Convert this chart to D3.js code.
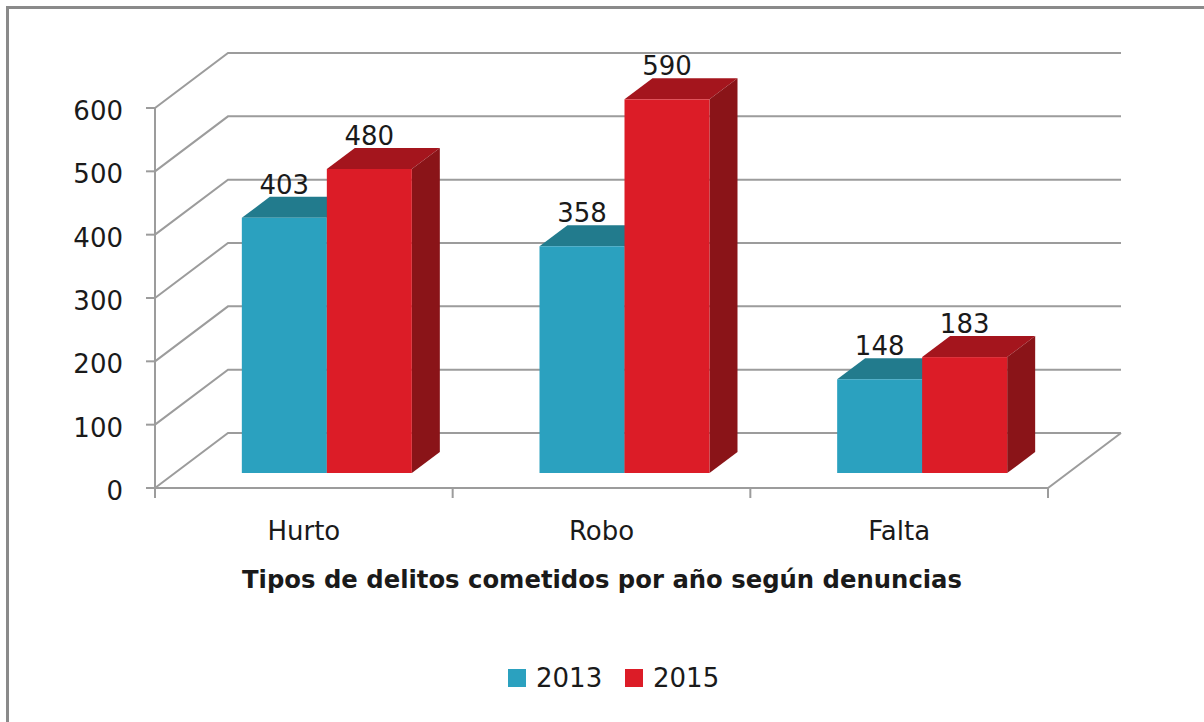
<!DOCTYPE html>
<html>
  <head>
    <title>Tipos de delitos</title>
    <script src="https://d3js.org/d3.v7.min.js"></script>
    <style>
      body { margin: 0; background: #fff; }
      text { font-family: "DejaVu Sans", sans-serif; fill: #1a1a1a; }
    </style>
  </head>
  <body>
    <div id="chart"></div>
    <script>
      // datos
      var categorias = ["Hurto", "Robo", "Falta"];
      var series = ["2013", "2015"];
      var valores2013 = [403, 358, 148];
      var valores2015 = [480, 590, 183];
      var ticksY = [0, 100, 200, 300, 400, 500, 600];

      var colores = {
        "2013": { front: "#2ba1bf", top: "#227b8d", side: "#1c6676" },
        "2015": { front: "#dc1c27", top: "#a4151d", side: "#8a1418" }
      };

      var W = 1204, H = 722;
      var svg = d3.select("#chart").append("svg")
        .attr("width", W).attr("height", H);

      // marco exterior
      svg.append("rect")
        .attr("x", 7.5).attr("y", 7.5)
        .attr("width", 1400).attr("height", 900)
        .attr("fill", "none")
        .attr("stroke", "#8a8a8a")
        .attr("stroke-width", 3);

      var x = d3.scaleBand().domain(categorias).range([155, 1048]);
      var y = d3.scaleLinear().domain([0, 600]).range([488, 108]);
      var xSerie = d3.scaleBand().domain(series).range([0, 170]);

      // profundidad (proyeccion oblicua)
      var DX = 73, DY = -55;        // pared del fondo
      var fdx = 20, fdy = -15;      // cara frontal de la barra
      var bdx = 28, bdy = -21;      // fondo de la barra
      var gris = "#9c9c9c";

      // lineas de cuadricula (pared izquierda + fondo)
      svg.selectAll("polyline.grid")
        .data(ticksY)
        .enter()
        .append("polyline")
        .attr("class", "grid")
        .attr("points", function(t) {
          return [[155, y(t)], [155 + DX, y(t) + DY], [1048 + DX, y(t) + DY]].join(" ");
        })
        .attr("fill", "none")
        .attr("stroke", gris)
        .attr("stroke-width", 2);

      // suelo: borde frontal y derecho
      svg.append("polyline")
        .attr("points", [[155, y(0)], [1048, y(0)], [1048 + DX, y(0) + DY]].join(" "))
        .attr("fill", "none")
        .attr("stroke", gris)
        .attr("stroke-width", 2);

      // eje y
      svg.append("line")
        .attr("x1", 155).attr("x2", 155)
        .attr("y1", y(600)).attr("y2", y(0))
        .attr("stroke", gris).attr("stroke-width", 2);

      svg.selectAll("line.ytick")
        .data(ticksY)
        .enter()
        .append("line")
        .attr("class", "ytick")
        .attr("x1", 146).attr("x2", 155)
        .attr("y1", function(t) { return y(t); })
        .attr("y2", function(t) { return y(t); })
        .attr("stroke", gris).attr("stroke-width", 2);

      svg.selectAll("text.ylabel")
        .data(ticksY)
        .enter()
        .append("text")
        .attr("class", "ylabel")
        .text(function(t) { return t; })
        .attr("x", 123)
        .attr("y", function(t) { return y(t) + 12; })
        .attr("text-anchor", "end")
        .attr("font-size", "26px");

      // marcas del eje x
      var bordes = categorias.map(function(c) { return x(c); }).concat([x.range()[1]]);
      svg.selectAll("line.xtick")
        .data(bordes)
        .enter()
        .append("line")
        .attr("class", "xtick")
        .attr("x1", function(d) { return d; })
        .attr("x2", function(d) { return d; })
        .attr("y1", y(0)).attr("y2", y(0) + 10)
        .attr("stroke", gris).attr("stroke-width", 2);

      svg.selectAll("text.xlabel")
        .data(categorias)
        .enter()
        .append("text")
        .attr("class", "xlabel")
        .text(function(c) { return c; })
        .attr("x", function(c) { return x(c) + x.bandwidth() / 2; })
        .attr("y", 540)
        .attr("text-anchor", "middle")
        .attr("font-size", "26px");

      // barras 3D
      var barras = [];
      categorias.forEach(function(c, i) {
        barras.push({ cat: c, serie: "2013", valor: valores2013[i] });
        barras.push({ cat: c, serie: "2015", valor: valores2015[i] });
      });

      var bw = xSerie.bandwidth();
      function sx(d) {
        return x(d.cat) + x.bandwidth() / 2 + 3 - 85 + xSerie(d.serie) + fdx;
      }

      var g = svg.selectAll("g.barra")
        .data(barras)
        .enter()
        .append("g")
        .attr("class", "barra");

      g.append("polygon")
        .attr("points", function(d) {
          var x0 = sx(d), yt = y(d.valor) + fdy;
          return [[x0, yt], [x0 + bw, yt], [x0 + bw + bdx, yt + bdy], [x0 + bdx, yt + bdy]].join(" ");
        })
        .attr("fill", function(d) { return colores[d.serie].top; });

      g.append("polygon")
        .attr("points", function(d) {
          var x0 = sx(d) + bw, yt = y(d.valor) + fdy, yb = y(0) + fdy;
          return [[x0, yt], [x0 + bdx, yt + bdy], [x0 + bdx, yb + bdy], [x0, yb]].join(" ");
        })
        .attr("fill", function(d) { return colores[d.serie].side; });

      g.append("rect")
        .attr("x", function(d) { return sx(d); })
        .attr("y", function(d) { return y(d.valor) + fdy; })
        .attr("width", bw)
        .attr("height", function(d) { return y(0) - y(d.valor); })
        .attr("fill", function(d) { return colores[d.serie].front; });

      // etiquetas de valores
      svg.selectAll("text.valor")
        .data(barras)
        .enter()
        .append("text")
        .attr("class", "valor")
        .text(function(d) { return d.valor; })
        .attr("x", function(d) { return sx(d) + bw / 2; })
        .attr("y", function(d) { return y(d.valor) + fdy + bdy - 3; })
        .attr("text-anchor", "middle")
        .attr("font-size", "26px");

      // titulo del eje
      svg.append("text")
        .text("Tipos de delitos cometidos por año según denuncias")
        .attr("x", 602)
        .attr("y", 588)
        .attr("text-anchor", "middle")
        .attr("font-size", "24.3px")
        .attr("font-weight", "bold");

      // leyenda
      var ley = svg.selectAll("g.ley")
        .data(series)
        .enter()
        .append("g")
        .attr("class", "ley")
        .attr("transform", function(d, i) { return "translate(" + (508 + i * 117) + ",669)"; });

      ley.append("rect")
        .attr("width", 18).attr("height", 18)
        .attr("fill", function(d) { return colores[d].front; });

      ley.append("text")
        .text(function(d) { return d; })
        .attr("x", 28)
        .attr("y", 18)
        .attr("font-size", "26px");
    </script>
  </body>
</html>
